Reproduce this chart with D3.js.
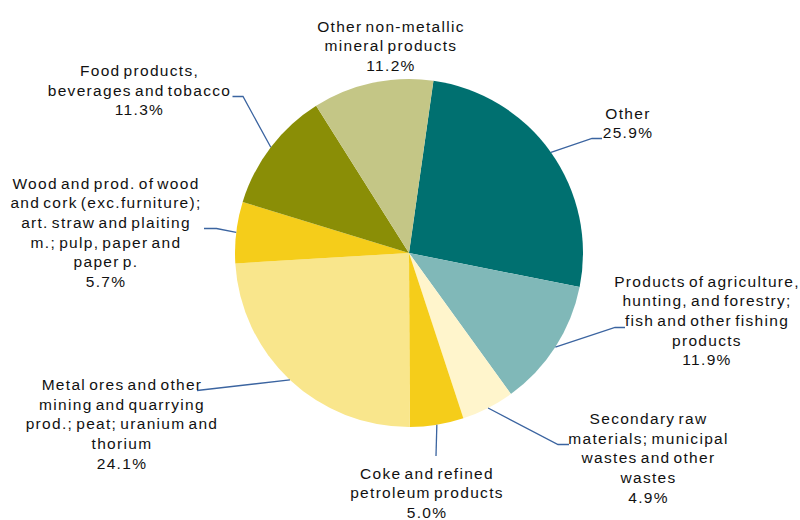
<!DOCTYPE html>
<html>
<head>
<meta charset="utf-8">
<script src="https://cdn.jsdelivr.net/npm/d3@7/dist/d3.min.js"></script>
<style>
  html, body { margin: 0; padding: 0; background: #ffffff; }
  svg { display: block; }
  .lbl { font-family: "Liberation Sans", Arial, sans-serif; font-size: 15.5px; fill: #111111;
         letter-spacing: 1.3px; word-spacing: -2.5px; }
</style>
</head>
<body>
<svg id="chart" width="800" height="520"></svg>
<script>
// Freight transported by group of goods, share of total (%)
const categories = [
  "Other",
  "Products of agriculture, hunting, and forestry; fish and other fishing products",
  "Secondary raw materials; municipal wastes and other wastes",
  "Coke and refined petroleum products",
  "Metal ores and other mining and quarrying prod.; peat; uranium and thorium",
  "Wood and prod. of wood and cork (exc.furniture); art. straw and plaiting m.; pulp, paper and paper p.",
  "Food products, beverages and tobacco",
  "Other non-metallic mineral products"
];
const shares = [25.9, 11.9, 4.9, 5.0, 24.1, 5.7, 11.3, 11.2];

// Wrapped label text for each slice (value line is appended below)
const labelLines = [
  ["Other"],
  ["Products of agriculture,", "hunting, and forestry;", "fish and other fishing", "products"],
  ["Secondary raw", "materials; municipal", "wastes and other", "wastes"],
  ["Coke and refined", "petroleum products"],
  ["Metal ores and other", "mining and quarrying", "prod.; peat; uranium and", "thorium"],
  ["Wood and prod. of wood", "and cork (exc.furniture);", "art. straw and plaiting", "m.; pulp, paper and", "paper p."],
  ["Food products,", "beverages and tobacco"],
  ["Other non-metallic", "mineral products"]
];

const sliceColors = ["#007070", "#80b8b8", "#fff5cc", "#f5cd1a", "#f9e68c", "#f5cd1a", "#8a8e06", "#c4c686"];

// Label block placement: centre x and first baseline y
const labelAnchors = [
  [628, 118.5], [707, 286.5], [648.5, 424], [427, 478.5],
  [122, 390], [106, 188.5], [139.5, 76], [391, 31.5]
];
// Leader lines: label-side start point and horizontal elbow x (null = no leader)
const leaderStarts = [
  [602, 138.5, 592], [625, 327.5, 615], [569, 444.5, 558], [436, 456, 436],
  [197, 390.5, 197], [204, 228.5, 216.5], [232.5, 96.5, 243], null
];

const cx = 409, cy = 253, radius = 174;
const startAngle = 8.07 * Math.PI / 180;
const lineH = 19.7;

const svg = d3.select("#chart");
const g = svg.append("g").attr("transform", `translate(${cx},${cy})`);

const pie = d3.pie()
  .sort(null)
  .value(d => d)
  .startAngle(startAngle)
  .endAngle(startAngle + 2 * Math.PI);

const arcs = pie(shares);
const arc = d3.arc().innerRadius(0).outerRadius(radius);
const edge = d3.arc().innerRadius(radius).outerRadius(radius);

g.selectAll("path.slice")
  .data(arcs)
  .join("path")
  .attr("class", "slice")
  .attr("d", arc)
  .attr("fill", (d, i) => sliceColors[i]);

// Leader lines from label to slice edge midpoint
const lines = svg.append("g");
arcs.forEach((d, i) => {
  const s = leaderStarts[i];
  if (!s) return;
  const [ex, ey] = edge.centroid(d);
  const pts = [[s[0], s[1]], [s[2], s[1]], [cx + ex, cy + ey]];
  lines.append("path")
    .attr("d", d3.line()(pts))
    .attr("fill", "none")
    .attr("stroke", "#3b64a0")
    .attr("stroke-width", 1.3);
});

// Data labels
const fmt = d3.format(".1f");
const labels = svg.append("g");
arcs.forEach((d, i) => {
  const [lx, ly] = labelAnchors[i];
  const rows = labelLines[i].concat([fmt(shares[i]) + "%"]);
  const t = labels.append("text")
    .attr("class", "lbl")
    .attr("text-anchor", "middle");
  rows.forEach((r, k) => {
    t.append("tspan").attr("x", lx).attr("y", ly + k * lineH).text(r);
  });
});
</script>
</body>
</html>
